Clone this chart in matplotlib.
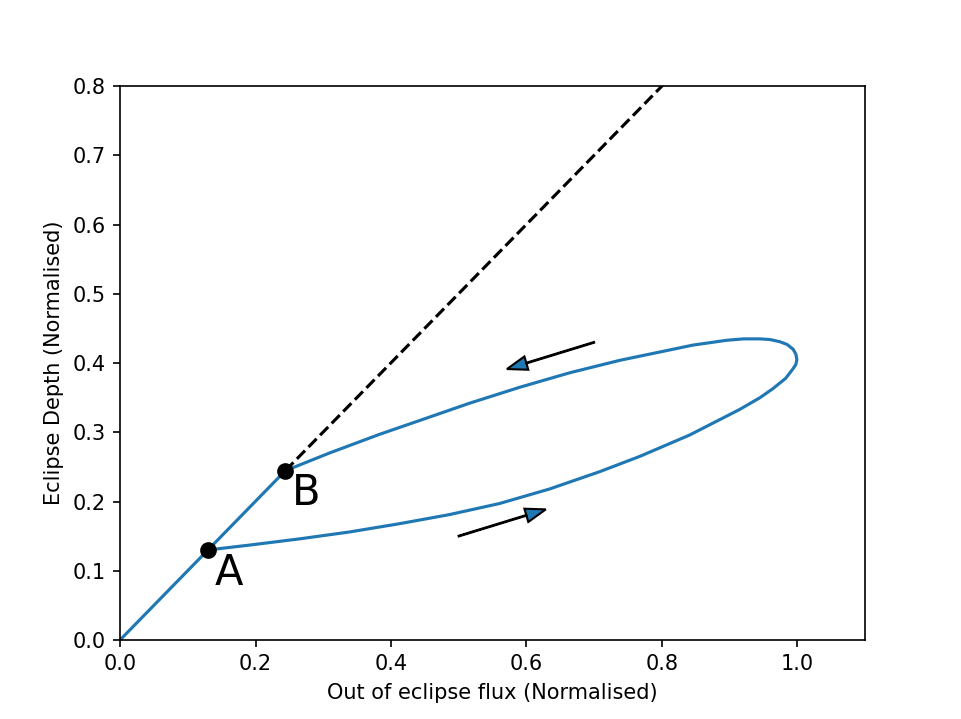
import numpy as np
import matplotlib
matplotlib.use("Agg")
import matplotlib.pyplot as plt

# --- Data ---
# points A and B on the y = x line
point_a = (0.130, 0.130)
point_b = (0.244, 0.2445)

# loop: lower branch from A out to the right end, then upper branch back to B
loop_x = [0.130, 0.191, 0.265, 0.339, 0.413, 0.486, 0.560, 0.634, 0.708,
          0.767, 0.841, 0.915, 0.945, 0.964, 0.983, 0.994, 0.998, 0.9995,
          0.998, 0.994, 0.985, 0.974, 0.960, 0.945, 0.921, 0.896, 0.846,
          0.797, 0.738, 0.664, 0.590, 0.516, 0.457, 0.383, 0.309, 0.244]
loop_y = [0.130, 0.137, 0.146, 0.156, 0.168, 0.181, 0.197, 0.218, 0.243,
          0.265, 0.296, 0.333, 0.350, 0.363, 0.378, 0.392, 0.398, 0.405,
          0.413, 0.420, 0.427, 0.431, 0.434, 0.435, 0.435, 0.433, 0.426,
          0.416, 0.404, 0.386, 0.365, 0.342, 0.322, 0.297, 0.270, 0.2445]

# y = x reference line
diag_x = [0.0, 1.0]
diag_y = [0.0, 1.0]

# direction arrows: start point and step
arrow_lower = (0.5, 0.15, 0.1, 0.03)
arrow_upper = (0.7, 0.43, -0.1, -0.03)

fig, ax = plt.subplots(figsize=(9.61 / 1.5, 7.19 / 1.5), dpi=150)

# dashed continuation of y = x above B
ax.plot([point_b[0], diag_x[1]], [point_b[1], diag_y[1]], 'k--')

# blue track along the diagonal and round the loop
ax.plot([diag_x[0], point_b[0]], [diag_y[0], point_b[1]], color='C0')
ax.plot(loop_x, loop_y, color='C0')

# arrows showing direction of travel
for x0, y0, dx, dy in (arrow_lower, arrow_upper):
    ax.arrow(x0, y0, dx, dy, head_width=0.02, fc='C0', ec='k')

# markers and labels
ax.plot(*point_a, 'ko', ms=7, zorder=5)
ax.plot(*point_b, 'ko', ms=7, zorder=5)
ax.text(0.14, 0.08, 'A', fontsize=20)
ax.text(0.253, 0.195, 'B', fontsize=20)

ax.set_xlim(0, 1.1)
ax.set_ylim(0, 0.8)
ax.set_xticks(np.arange(0, 1.01, 0.2))
ax.set_xlabel('Out of eclipse flux (Normalised)')
ax.set_ylabel('Eclipse Depth (Normalised)')

plt.savefig('out.png', dpi=150)
plt.close()
